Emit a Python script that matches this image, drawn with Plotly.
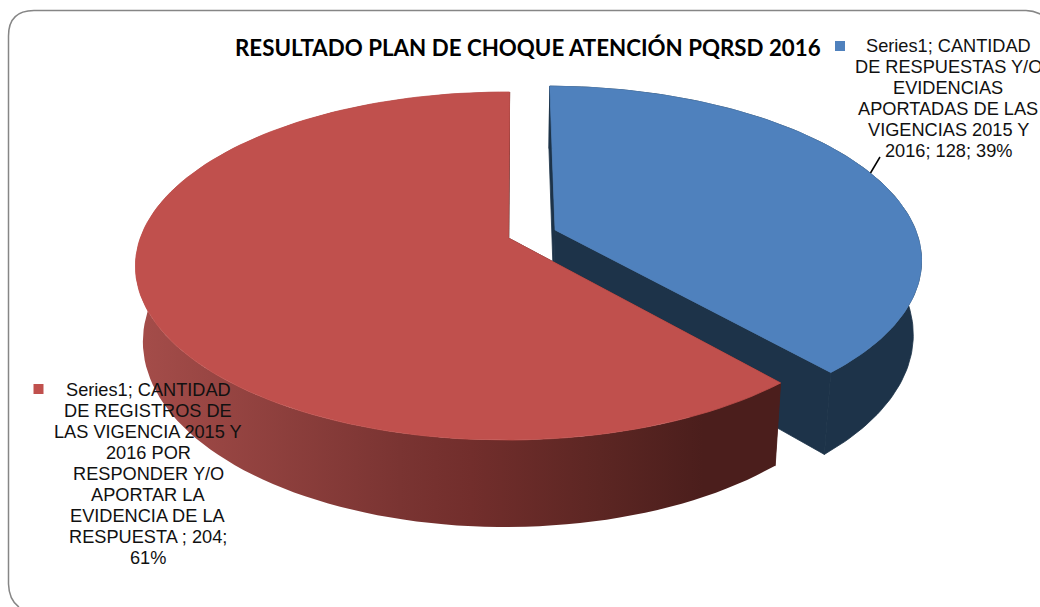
import math
import plotly.graph_objects as go

# ---- data ----
categories = ["CANTIDAD DE RESPUESTAS Y/O EVIDENCIAS APORTADAS DE LAS VIGENCIAS 2015 Y 2016",
              "CANTIDAD DE REGISTROS DE LAS VIGENCIA 2015 Y 2016 POR RESPONDER Y/O APORTAR LA EVIDENCIA DE LA RESPUESTA"]
values = [128, 204]
explode = [0.137, 0.0]
top_colors = ["#4F81BD", "#C0504D"]
wall_scales = [[[0, "#1D3349"], [1, "#1D3349"]],
               [[0, "#A54D4A"], [0.41, "#7A3432"], [0.52, "#722E2C"], [0.72, "#5C2623"], [0.88, "#4B1E1C"], [1, "#4B1E1C"]]]
title_text = "RESULTADO PLAN DE CHOQUE ATENCIÓN PQRSD 2016"
label_lines = [
    ["Series1; CANTIDAD", "DE RESPUESTAS Y/O", "EVIDENCIAS", "APORTADAS DE LAS", "VIGENCIAS 2015 Y", "2016; 128; 39%"],
    ["Series1; CANTIDAD", "DE REGISTROS DE", "LAS VIGENCIA 2015 Y", "2016 POR", "RESPONDER Y/O", "APORTAR LA",
     "EVIDENCIA DE LA", "RESPUESTA ; 204;", "61%"],
]

# ---- projection of the 3-D pie (view settings) ----
CX, AY, RX, RY, K, KX, H = 508.5, 238, 366, 169.5, 0.161, 0.006, 73
FIRST_ANGLE = math.radians(0.2)

def proj(x, y, z=0):
    w = 1 + K * y + KX * x
    return CX + RX * x / w * (1 - 0.02 * z), AY - RY * y / w + H * z / w

total = sum(values)
fig = go.Figure()

def rim(a0, a1, ox, oy, z=0, n=120):
    pts = []
    for i in range(n + 1):
        a = a0 + (a1 - a0) * i / n
        pts.append(proj(ox + math.sin(a), oy + math.cos(a), z))
    return pts

def poly(pts, line_color=None, **kw):
    xs = [p[0] for p in pts] + [pts[0][0]]
    ys = [p[1] for p in pts] + [pts[0][1]]
    line = dict(width=0.8, color=line_color) if line_color else dict(width=0)
    fig.add_trace(go.Scatter(x=xs, y=ys, mode="lines", fill="toself", line=line,
                             hoverinfo="skip", showlegend=False, **kw))

start = FIRST_ANGLE
for v, e, col, scale in zip(values, explode, top_colors, wall_scales):
    sweep = 2 * math.pi * v / total
    end = start + sweep
    mid = (start + end) / 2
    ox, oy = e * math.sin(mid), e * math.cos(mid)
    top = rim(start, end, ox, oy, 0)
    bottom = rim(start, end, ox, oy, 1)
    dark = scale[-1][1]
    flat = scale[0][1] == scale[-1][1]
    apex0, apex1 = proj(ox, oy, 0), proj(ox, oy, 1)
    poly([apex0, top[0], bottom[0], apex1], fillcolor=dark, line_color=dark)
    poly([apex0, top[-1], bottom[-1], apex1], fillcolor=dark, line_color=dark)
    if flat:
        poly(top + bottom[::-1], fillcolor=dark, line_color=dark)
    else:
        poly(top + bottom[::-1], fillgradient=dict(type="horizontal", colorscale=scale))
    poly([apex0] + top, fillcolor=col, line_color=col)
    start = end

# frame
fig.add_shape(type="path", xref="x", yref="y", line=dict(color="#868686", width=1.5),
              path="M 8.5 584 L 8.5 36 Q 8.5 10.5 34 10.5 L 1026 10.5 Q 1034 10.5 1042 15")
fig.add_shape(type="path", xref="x", yref="y", line=dict(color="#868686", width=1.5),
              path="M 8.5 584 Q 9 600 19 607")

# title
fig.add_annotation(x=528, y=47.5, text="<b>%s</b>" % title_text, showarrow=False, xanchor="center", yanchor="middle",
                   font=dict(family="Lato", size=22.3, color="#000000"))

# data labels: centre x, first-line y, line pitch, key colour and key position
label_pos = [(948, 46, 20.9, 840, 46), (148, 390, 21.0, 38.5, 389)]
for lines, (lx, ly, pitch, kx, ky), col in zip(label_lines, label_pos, top_colors):
    for i, t in enumerate(lines):
        fig.add_annotation(x=lx, y=ly + i * pitch, text=t, showarrow=False, xanchor="center", yanchor="middle",
                           font=dict(family="Liberation Sans", size=18.2, color="#111111"))
    fig.add_shape(type="rect", xref="x", yref="y", x0=kx - 5, x1=kx + 5, y0=ky - 5, y1=ky + 5,
                  fillcolor=col, line=dict(width=0))

# leader line
fig.add_shape(type="line", xref="x", yref="y", x0=880, y0=157, x1=870.5, y1=173,
              line=dict(color="#000000", width=1.5))

fig.update_layout(width=1040, height=607, margin=dict(l=0, r=0, t=0, b=0), paper_bgcolor="#FFFFFF",
                  plot_bgcolor="#FFFFFF", showlegend=False,
                  xaxis=dict(range=[0, 1040], visible=False, fixedrange=True),
                  yaxis=dict(range=[607, 0], visible=False, fixedrange=True))
fig.write_html("out.html", config=dict(displayModeBar=False), default_width="1040px", default_height="607px",
               full_html=True, post_script="document.body.style.margin='0';document.body.style.overflow='hidden';")
